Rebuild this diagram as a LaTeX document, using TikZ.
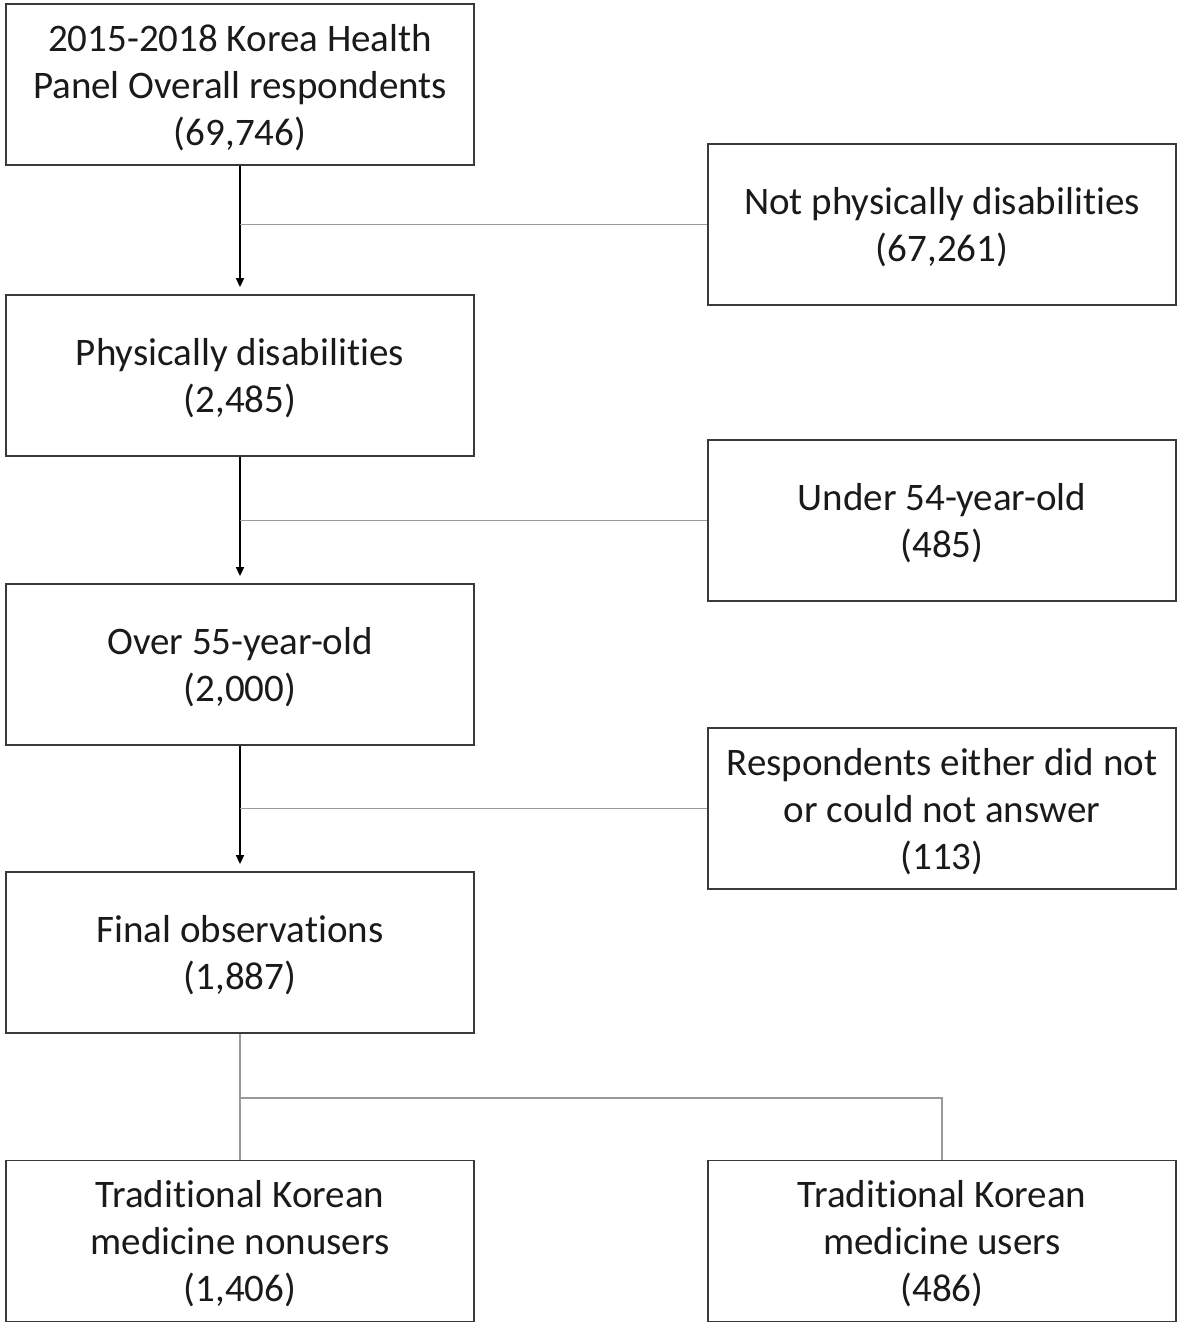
\documentclass[tikz,border=0pt]{standalone}
\usepackage{fontspec}
\setmainfont[Ligatures={NoCommon}]{Carlito}
\usetikzlibrary{arrows.meta}
\definecolor{boxline}{HTML}{3A3A3A}
\definecolor{thinline}{HTML}{999999}
\definecolor{textcol}{HTML}{1A1A1A}
\begin{document}
\begin{tikzpicture}[x=1pt,y=-1pt,
  flowbox/.style={draw=boxline, line width=1.8pt, minimum width=468pt, minimum height=161pt,
    align=center, inner sep=0pt, font=\fontsize{39}{47}\selectfont, text=textcol,
    text depth=-2pt},
  feed/.style={draw=black, line width=1.6pt, -{Triangle[length=9pt,width=8pt]}, shorten >=7pt},
  side/.style={draw=thinline, line width=1.2pt}]
\useasboundingbox (0,0) rectangle (1180,1328);
\node[flowbox] (b1) at (240,84.5) {2015-2018 Korea Health\\Panel Overall respondents\\(69,746)};
\node[flowbox] (b2) at (240,375.5) {Physically disabilities\\(2,485)};
\node[flowbox] (b3) at (240,664.5) {Over 55-year-old\\(2,000)};
\node[flowbox] (b4) at (240,952.5) {Final observations\\(1,887)};
\node[flowbox] (b5) at (240,1241) {Traditional Korean\\medicine nonusers\\(1,406)};
\node[flowbox] (r1) at (942,224.5) {Not physically disabilities\\(67,261)};
\node[flowbox] (r2) at (942,520.5) {Under 54-year-old\\(485)};
\node[flowbox] (r3) at (942,808.5) {Respondents either did not\\or could not answer\\(113)};
\node[flowbox] (r4) at (942,1241) {Traditional Korean\\medicine users\\(486)};
\draw[feed] (b1.south) -- (b2.north);
\draw[feed] (b2.south) -- (b3.north);
\draw[feed] (b3.south) -- (b4.north);
\draw[side] (r1.west) -- (r1.west -| b1.south);
\draw[side] (r2.west) -- (r2.west -| b2.south);
\draw[side] (r3.west) -- (r3.west -| b3.south);
\coordinate (split) at (240,1098);
\draw[side] (b4.south) -- (b5.north);
\draw[side] (split) -| (r4.north);
\end{tikzpicture}
\end{document}
